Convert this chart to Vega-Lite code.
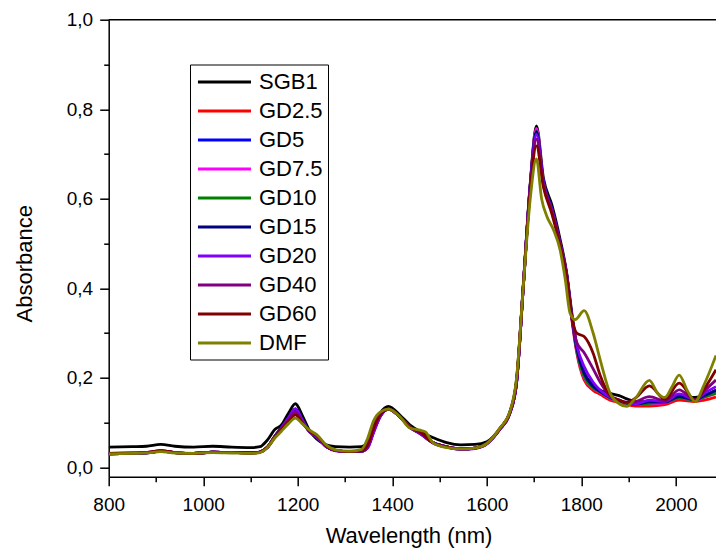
{
"$schema": "https://vega.github.io/schema/vega-lite/v6.json",
"width": 607.3, "height": 457,
"autosize": {"type": "none"},
"padding": {"left": 108.7, "top": 19.7, "right": 0, "bottom": 77.3},
"background": "white",
"config": {"view": {"stroke": null}, "font": "Liberation Sans"},
"datasets": {
"frame": [{"w": 800, "a": 1.0}],
"spectra": [
{"s":"SGB1","w":800,"a":0.045},{"s":"SGB1","w":850,"a":0.046},{"s":"SGB1","w":880,"a":0.047},{"s":"SGB1","w":910,"a":0.051},{"s":"SGB1","w":940,"a":0.047},{"s":"SGB1","w":980,"a":0.045},{"s":"SGB1","w":1020,"a":0.047},{"s":"SGB1","w":1060,"a":0.045},{"s":"SGB1","w":1100,"a":0.044},{"s":"SGB1","w":1120,"a":0.046},{"s":"SGB1","w":1135,"a":0.060},{"s":"SGB1","w":1152,"a":0.085},{"s":"SGB1","w":1165,"a":0.094},{"s":"SGB1","w":1180,"a":0.120},{"s":"SGB1","w":1195,"a":0.142},{"s":"SGB1","w":1210,"a":0.115},{"s":"SGB1","w":1225,"a":0.082},{"s":"SGB1","w":1240,"a":0.063},{"s":"SGB1","w":1260,"a":0.050},{"s":"SGB1","w":1280,"a":0.046},{"s":"SGB1","w":1310,"a":0.045},{"s":"SGB1","w":1335,"a":0.046},{"s":"SGB1","w":1348,"a":0.056},{"s":"SGB1","w":1360,"a":0.090},{"s":"SGB1","w":1375,"a":0.122},{"s":"SGB1","w":1392,"a":0.136},{"s":"SGB1","w":1416,"a":0.117},{"s":"SGB1","w":1437,"a":0.095},{"s":"SGB1","w":1459,"a":0.080},{"s":"SGB1","w":1487,"a":0.066},{"s":"SGB1","w":1515,"a":0.055},{"s":"SGB1","w":1545,"a":0.050},{"s":"SGB1","w":1575,"a":0.051},{"s":"SGB1","w":1600,"a":0.057},{"s":"SGB1","w":1628,"a":0.087},{"s":"SGB1","w":1649,"a":0.124},{"s":"SGB1","w":1663,"a":0.195},{"s":"SGB1","w":1677,"a":0.404},{"s":"SGB1","w":1692,"a":0.635},{"s":"SGB1","w":1705,"a":0.763},{"s":"SGB1","w":1720,"a":0.645},{"s":"SGB1","w":1738,"a":0.585},{"s":"SGB1","w":1755,"a":0.510},{"s":"SGB1","w":1769,"a":0.435},{"s":"SGB1","w":1780,"a":0.345},{"s":"SGB1","w":1790,"a":0.275},{"s":"SGB1","w":1806,"a":0.212},{"s":"SGB1","w":1825,"a":0.185},{"s":"SGB1","w":1840,"a":0.172},{"s":"SGB1","w":1861,"a":0.165},{"s":"SGB1","w":1880,"a":0.160},{"s":"SGB1","w":1896,"a":0.153},{"s":"SGB1","w":1915,"a":0.147},{"s":"SGB1","w":1944,"a":0.146},{"s":"SGB1","w":1977,"a":0.150},{"s":"SGB1","w":2007,"a":0.160},{"s":"SGB1","w":2041,"a":0.156},{"s":"SGB1","w":2060,"a":0.160},{"s":"SGB1","w":2085,"a":0.172},

{"s":"GD2.5","w":800,"a":0.030},{"s":"GD2.5","w":850,"a":0.031},{"s":"GD2.5","w":880,"a":0.032},{"s":"GD2.5","w":910,"a":0.036},{"s":"GD2.5","w":940,"a":0.033},{"s":"GD2.5","w":980,"a":0.031},{"s":"GD2.5","w":1020,"a":0.034},{"s":"GD2.5","w":1060,"a":0.033},{"s":"GD2.5","w":1100,"a":0.032},{"s":"GD2.5","w":1120,"a":0.034},{"s":"GD2.5","w":1135,"a":0.044},{"s":"GD2.5","w":1152,"a":0.070},{"s":"GD2.5","w":1165,"a":0.087},{"s":"GD2.5","w":1180,"a":0.106},{"s":"GD2.5","w":1195,"a":0.121},{"s":"GD2.5","w":1210,"a":0.101},{"s":"GD2.5","w":1225,"a":0.080},{"s":"GD2.5","w":1240,"a":0.069},{"s":"GD2.5","w":1260,"a":0.046},{"s":"GD2.5","w":1280,"a":0.038},{"s":"GD2.5","w":1310,"a":0.035},{"s":"GD2.5","w":1335,"a":0.036},{"s":"GD2.5","w":1348,"a":0.046},{"s":"GD2.5","w":1360,"a":0.080},{"s":"GD2.5","w":1375,"a":0.116},{"s":"GD2.5","w":1392,"a":0.130},{"s":"GD2.5","w":1416,"a":0.113},{"s":"GD2.5","w":1437,"a":0.090},{"s":"GD2.5","w":1459,"a":0.076},{"s":"GD2.5","w":1487,"a":0.055},{"s":"GD2.5","w":1515,"a":0.046},{"s":"GD2.5","w":1545,"a":0.041},{"s":"GD2.5","w":1575,"a":0.043},{"s":"GD2.5","w":1600,"a":0.053},{"s":"GD2.5","w":1628,"a":0.086},{"s":"GD2.5","w":1649,"a":0.122},{"s":"GD2.5","w":1663,"a":0.190},{"s":"GD2.5","w":1677,"a":0.400},{"s":"GD2.5","w":1692,"a":0.632},{"s":"GD2.5","w":1705,"a":0.756},{"s":"GD2.5","w":1720,"a":0.635},{"s":"GD2.5","w":1738,"a":0.575},{"s":"GD2.5","w":1755,"a":0.500},{"s":"GD2.5","w":1769,"a":0.428},{"s":"GD2.5","w":1780,"a":0.330},{"s":"GD2.5","w":1790,"a":0.258},{"s":"GD2.5","w":1806,"a":0.195},{"s":"GD2.5","w":1825,"a":0.172},{"s":"GD2.5","w":1840,"a":0.163},{"s":"GD2.5","w":1861,"a":0.150},{"s":"GD2.5","w":1880,"a":0.145},{"s":"GD2.5","w":1896,"a":0.140},{"s":"GD2.5","w":1915,"a":0.137},{"s":"GD2.5","w":1944,"a":0.137},{"s":"GD2.5","w":1977,"a":0.140},{"s":"GD2.5","w":2007,"a":0.150},{"s":"GD2.5","w":2041,"a":0.147},{"s":"GD2.5","w":2060,"a":0.150},{"s":"GD2.5","w":2085,"a":0.157},

{"s":"GD5","w":800,"a":0.030},{"s":"GD5","w":850,"a":0.031},{"s":"GD5","w":880,"a":0.032},{"s":"GD5","w":910,"a":0.036},{"s":"GD5","w":940,"a":0.033},{"s":"GD5","w":980,"a":0.031},{"s":"GD5","w":1020,"a":0.034},{"s":"GD5","w":1060,"a":0.033},{"s":"GD5","w":1100,"a":0.032},{"s":"GD5","w":1120,"a":0.034},{"s":"GD5","w":1135,"a":0.044},{"s":"GD5","w":1152,"a":0.070},{"s":"GD5","w":1165,"a":0.087},{"s":"GD5","w":1180,"a":0.109},{"s":"GD5","w":1195,"a":0.130},{"s":"GD5","w":1210,"a":0.104},{"s":"GD5","w":1225,"a":0.080},{"s":"GD5","w":1240,"a":0.070},{"s":"GD5","w":1260,"a":0.047},{"s":"GD5","w":1280,"a":0.038},{"s":"GD5","w":1310,"a":0.035},{"s":"GD5","w":1335,"a":0.036},{"s":"GD5","w":1348,"a":0.045},{"s":"GD5","w":1360,"a":0.079},{"s":"GD5","w":1375,"a":0.115},{"s":"GD5","w":1392,"a":0.130},{"s":"GD5","w":1416,"a":0.113},{"s":"GD5","w":1437,"a":0.090},{"s":"GD5","w":1459,"a":0.076},{"s":"GD5","w":1487,"a":0.055},{"s":"GD5","w":1515,"a":0.046},{"s":"GD5","w":1545,"a":0.041},{"s":"GD5","w":1575,"a":0.043},{"s":"GD5","w":1600,"a":0.053},{"s":"GD5","w":1628,"a":0.086},{"s":"GD5","w":1649,"a":0.122},{"s":"GD5","w":1663,"a":0.190},{"s":"GD5","w":1677,"a":0.400},{"s":"GD5","w":1692,"a":0.630},{"s":"GD5","w":1705,"a":0.752},{"s":"GD5","w":1720,"a":0.635},{"s":"GD5","w":1738,"a":0.575},{"s":"GD5","w":1755,"a":0.500},{"s":"GD5","w":1769,"a":0.430},{"s":"GD5","w":1780,"a":0.335},{"s":"GD5","w":1790,"a":0.265},{"s":"GD5","w":1806,"a":0.205},{"s":"GD5","w":1825,"a":0.178},{"s":"GD5","w":1840,"a":0.168},{"s":"GD5","w":1861,"a":0.155},{"s":"GD5","w":1880,"a":0.148},{"s":"GD5","w":1896,"a":0.143},{"s":"GD5","w":1915,"a":0.140},{"s":"GD5","w":1944,"a":0.143},{"s":"GD5","w":1977,"a":0.145},{"s":"GD5","w":2007,"a":0.156},{"s":"GD5","w":2041,"a":0.150},{"s":"GD5","w":2060,"a":0.158},{"s":"GD5","w":2085,"a":0.170},

{"s":"GD7.5","w":800,"a":0.030},{"s":"GD7.5","w":850,"a":0.031},{"s":"GD7.5","w":880,"a":0.032},{"s":"GD7.5","w":910,"a":0.036},{"s":"GD7.5","w":940,"a":0.033},{"s":"GD7.5","w":980,"a":0.031},{"s":"GD7.5","w":1020,"a":0.034},{"s":"GD7.5","w":1060,"a":0.033},{"s":"GD7.5","w":1100,"a":0.032},{"s":"GD7.5","w":1120,"a":0.034},{"s":"GD7.5","w":1135,"a":0.044},{"s":"GD7.5","w":1152,"a":0.070},{"s":"GD7.5","w":1165,"a":0.087},{"s":"GD7.5","w":1180,"a":0.108},{"s":"GD7.5","w":1195,"a":0.126},{"s":"GD7.5","w":1210,"a":0.102},{"s":"GD7.5","w":1225,"a":0.080},{"s":"GD7.5","w":1240,"a":0.070},{"s":"GD7.5","w":1260,"a":0.047},{"s":"GD7.5","w":1280,"a":0.038},{"s":"GD7.5","w":1310,"a":0.035},{"s":"GD7.5","w":1335,"a":0.036},{"s":"GD7.5","w":1348,"a":0.046},{"s":"GD7.5","w":1360,"a":0.080},{"s":"GD7.5","w":1375,"a":0.116},{"s":"GD7.5","w":1392,"a":0.130},{"s":"GD7.5","w":1416,"a":0.113},{"s":"GD7.5","w":1437,"a":0.090},{"s":"GD7.5","w":1459,"a":0.076},{"s":"GD7.5","w":1487,"a":0.055},{"s":"GD7.5","w":1515,"a":0.046},{"s":"GD7.5","w":1545,"a":0.041},{"s":"GD7.5","w":1575,"a":0.043},{"s":"GD7.5","w":1600,"a":0.053},{"s":"GD7.5","w":1628,"a":0.086},{"s":"GD7.5","w":1649,"a":0.122},{"s":"GD7.5","w":1663,"a":0.190},{"s":"GD7.5","w":1677,"a":0.400},{"s":"GD7.5","w":1692,"a":0.632},{"s":"GD7.5","w":1705,"a":0.757},{"s":"GD7.5","w":1720,"a":0.635},{"s":"GD7.5","w":1738,"a":0.575},{"s":"GD7.5","w":1755,"a":0.500},{"s":"GD7.5","w":1769,"a":0.430},{"s":"GD7.5","w":1780,"a":0.333},{"s":"GD7.5","w":1790,"a":0.262},{"s":"GD7.5","w":1806,"a":0.200},{"s":"GD7.5","w":1825,"a":0.176},{"s":"GD7.5","w":1840,"a":0.167},{"s":"GD7.5","w":1861,"a":0.154},{"s":"GD7.5","w":1880,"a":0.147},{"s":"GD7.5","w":1896,"a":0.142},{"s":"GD7.5","w":1915,"a":0.140},{"s":"GD7.5","w":1944,"a":0.142},{"s":"GD7.5","w":1977,"a":0.144},{"s":"GD7.5","w":2007,"a":0.155},{"s":"GD7.5","w":2041,"a":0.149},{"s":"GD7.5","w":2060,"a":0.156},{"s":"GD7.5","w":2085,"a":0.165},

{"s":"GD10","w":800,"a":0.030},{"s":"GD10","w":850,"a":0.031},{"s":"GD10","w":880,"a":0.032},{"s":"GD10","w":910,"a":0.036},{"s":"GD10","w":940,"a":0.033},{"s":"GD10","w":980,"a":0.031},{"s":"GD10","w":1020,"a":0.034},{"s":"GD10","w":1060,"a":0.033},{"s":"GD10","w":1100,"a":0.032},{"s":"GD10","w":1120,"a":0.034},{"s":"GD10","w":1135,"a":0.044},{"s":"GD10","w":1152,"a":0.070},{"s":"GD10","w":1165,"a":0.087},{"s":"GD10","w":1180,"a":0.108},{"s":"GD10","w":1195,"a":0.127},{"s":"GD10","w":1210,"a":0.103},{"s":"GD10","w":1225,"a":0.080},{"s":"GD10","w":1240,"a":0.070},{"s":"GD10","w":1260,"a":0.047},{"s":"GD10","w":1280,"a":0.038},{"s":"GD10","w":1310,"a":0.035},{"s":"GD10","w":1335,"a":0.036},{"s":"GD10","w":1348,"a":0.046},{"s":"GD10","w":1360,"a":0.080},{"s":"GD10","w":1375,"a":0.116},{"s":"GD10","w":1392,"a":0.130},{"s":"GD10","w":1416,"a":0.113},{"s":"GD10","w":1437,"a":0.090},{"s":"GD10","w":1459,"a":0.076},{"s":"GD10","w":1487,"a":0.055},{"s":"GD10","w":1515,"a":0.046},{"s":"GD10","w":1545,"a":0.041},{"s":"GD10","w":1575,"a":0.043},{"s":"GD10","w":1600,"a":0.053},{"s":"GD10","w":1628,"a":0.086},{"s":"GD10","w":1649,"a":0.122},{"s":"GD10","w":1663,"a":0.190},{"s":"GD10","w":1677,"a":0.400},{"s":"GD10","w":1692,"a":0.630},{"s":"GD10","w":1705,"a":0.751},{"s":"GD10","w":1720,"a":0.635},{"s":"GD10","w":1738,"a":0.575},{"s":"GD10","w":1755,"a":0.500},{"s":"GD10","w":1769,"a":0.430},{"s":"GD10","w":1780,"a":0.335},{"s":"GD10","w":1790,"a":0.264},{"s":"GD10","w":1806,"a":0.203},{"s":"GD10","w":1825,"a":0.178},{"s":"GD10","w":1840,"a":0.168},{"s":"GD10","w":1861,"a":0.155},{"s":"GD10","w":1880,"a":0.148},{"s":"GD10","w":1896,"a":0.143},{"s":"GD10","w":1915,"a":0.140},{"s":"GD10","w":1944,"a":0.143},{"s":"GD10","w":1977,"a":0.145},{"s":"GD10","w":2007,"a":0.155},{"s":"GD10","w":2041,"a":0.150},{"s":"GD10","w":2060,"a":0.157},{"s":"GD10","w":2085,"a":0.166},

{"s":"GD15","w":800,"a":0.030},{"s":"GD15","w":850,"a":0.031},{"s":"GD15","w":880,"a":0.032},{"s":"GD15","w":910,"a":0.036},{"s":"GD15","w":940,"a":0.033},{"s":"GD15","w":980,"a":0.031},{"s":"GD15","w":1020,"a":0.034},{"s":"GD15","w":1060,"a":0.033},{"s":"GD15","w":1100,"a":0.032},{"s":"GD15","w":1120,"a":0.034},{"s":"GD15","w":1135,"a":0.044},{"s":"GD15","w":1152,"a":0.070},{"s":"GD15","w":1165,"a":0.088},{"s":"GD15","w":1180,"a":0.110},{"s":"GD15","w":1195,"a":0.130},{"s":"GD15","w":1210,"a":0.104},{"s":"GD15","w":1225,"a":0.080},{"s":"GD15","w":1240,"a":0.070},{"s":"GD15","w":1260,"a":0.047},{"s":"GD15","w":1280,"a":0.038},{"s":"GD15","w":1310,"a":0.035},{"s":"GD15","w":1335,"a":0.036},{"s":"GD15","w":1348,"a":0.045},{"s":"GD15","w":1360,"a":0.078},{"s":"GD15","w":1375,"a":0.115},{"s":"GD15","w":1392,"a":0.130},{"s":"GD15","w":1416,"a":0.113},{"s":"GD15","w":1437,"a":0.090},{"s":"GD15","w":1459,"a":0.076},{"s":"GD15","w":1487,"a":0.055},{"s":"GD15","w":1515,"a":0.046},{"s":"GD15","w":1545,"a":0.041},{"s":"GD15","w":1575,"a":0.043},{"s":"GD15","w":1600,"a":0.053},{"s":"GD15","w":1628,"a":0.086},{"s":"GD15","w":1649,"a":0.122},{"s":"GD15","w":1663,"a":0.190},{"s":"GD15","w":1677,"a":0.400},{"s":"GD15","w":1692,"a":0.630},{"s":"GD15","w":1705,"a":0.750},{"s":"GD15","w":1720,"a":0.636},{"s":"GD15","w":1738,"a":0.577},{"s":"GD15","w":1755,"a":0.502},{"s":"GD15","w":1769,"a":0.431},{"s":"GD15","w":1780,"a":0.337},{"s":"GD15","w":1790,"a":0.268},{"s":"GD15","w":1806,"a":0.210},{"s":"GD15","w":1825,"a":0.181},{"s":"GD15","w":1840,"a":0.169},{"s":"GD15","w":1861,"a":0.156},{"s":"GD15","w":1880,"a":0.149},{"s":"GD15","w":1896,"a":0.144},{"s":"GD15","w":1915,"a":0.141},{"s":"GD15","w":1944,"a":0.146},{"s":"GD15","w":1977,"a":0.146},{"s":"GD15","w":2007,"a":0.158},{"s":"GD15","w":2041,"a":0.151},{"s":"GD15","w":2060,"a":0.160},{"s":"GD15","w":2085,"a":0.172},

{"s":"GD20","w":800,"a":0.030},{"s":"GD20","w":850,"a":0.031},{"s":"GD20","w":880,"a":0.032},{"s":"GD20","w":910,"a":0.036},{"s":"GD20","w":940,"a":0.033},{"s":"GD20","w":980,"a":0.031},{"s":"GD20","w":1020,"a":0.034},{"s":"GD20","w":1060,"a":0.033},{"s":"GD20","w":1100,"a":0.032},{"s":"GD20","w":1120,"a":0.034},{"s":"GD20","w":1135,"a":0.043},{"s":"GD20","w":1152,"a":0.068},{"s":"GD20","w":1165,"a":0.087},{"s":"GD20","w":1180,"a":0.110},{"s":"GD20","w":1195,"a":0.131},{"s":"GD20","w":1210,"a":0.105},{"s":"GD20","w":1225,"a":0.079},{"s":"GD20","w":1240,"a":0.068},{"s":"GD20","w":1260,"a":0.046},{"s":"GD20","w":1280,"a":0.037},{"s":"GD20","w":1310,"a":0.035},{"s":"GD20","w":1335,"a":0.036},{"s":"GD20","w":1348,"a":0.043},{"s":"GD20","w":1360,"a":0.076},{"s":"GD20","w":1375,"a":0.114},{"s":"GD20","w":1392,"a":0.130},{"s":"GD20","w":1416,"a":0.113},{"s":"GD20","w":1437,"a":0.089},{"s":"GD20","w":1459,"a":0.075},{"s":"GD20","w":1487,"a":0.054},{"s":"GD20","w":1515,"a":0.045},{"s":"GD20","w":1545,"a":0.040},{"s":"GD20","w":1575,"a":0.042},{"s":"GD20","w":1600,"a":0.052},{"s":"GD20","w":1628,"a":0.085},{"s":"GD20","w":1649,"a":0.121},{"s":"GD20","w":1663,"a":0.188},{"s":"GD20","w":1677,"a":0.398},{"s":"GD20","w":1692,"a":0.628},{"s":"GD20","w":1705,"a":0.744},{"s":"GD20","w":1720,"a":0.634},{"s":"GD20","w":1738,"a":0.574},{"s":"GD20","w":1755,"a":0.500},{"s":"GD20","w":1769,"a":0.430},{"s":"GD20","w":1780,"a":0.338},{"s":"GD20","w":1790,"a":0.275},{"s":"GD20","w":1806,"a":0.225},{"s":"GD20","w":1825,"a":0.190},{"s":"GD20","w":1840,"a":0.172},{"s":"GD20","w":1861,"a":0.157},{"s":"GD20","w":1880,"a":0.150},{"s":"GD20","w":1896,"a":0.145},{"s":"GD20","w":1915,"a":0.142},{"s":"GD20","w":1944,"a":0.150},{"s":"GD20","w":1977,"a":0.147},{"s":"GD20","w":2007,"a":0.164},{"s":"GD20","w":2041,"a":0.151},{"s":"GD20","w":2060,"a":0.165},{"s":"GD20","w":2085,"a":0.180},

{"s":"GD40","w":800,"a":0.031},{"s":"GD40","w":850,"a":0.032},{"s":"GD40","w":880,"a":0.033},{"s":"GD40","w":910,"a":0.037},{"s":"GD40","w":940,"a":0.033},{"s":"GD40","w":980,"a":0.031},{"s":"GD40","w":1020,"a":0.034},{"s":"GD40","w":1060,"a":0.033},{"s":"GD40","w":1100,"a":0.032},{"s":"GD40","w":1120,"a":0.034},{"s":"GD40","w":1135,"a":0.044},{"s":"GD40","w":1152,"a":0.069},{"s":"GD40","w":1165,"a":0.086},{"s":"GD40","w":1180,"a":0.106},{"s":"GD40","w":1195,"a":0.124},{"s":"GD40","w":1210,"a":0.101},{"s":"GD40","w":1225,"a":0.080},{"s":"GD40","w":1240,"a":0.070},{"s":"GD40","w":1260,"a":0.047},{"s":"GD40","w":1280,"a":0.038},{"s":"GD40","w":1310,"a":0.035},{"s":"GD40","w":1335,"a":0.036},{"s":"GD40","w":1348,"a":0.047},{"s":"GD40","w":1360,"a":0.082},{"s":"GD40","w":1375,"a":0.117},{"s":"GD40","w":1392,"a":0.130},{"s":"GD40","w":1416,"a":0.113},{"s":"GD40","w":1437,"a":0.090},{"s":"GD40","w":1459,"a":0.077},{"s":"GD40","w":1487,"a":0.055},{"s":"GD40","w":1515,"a":0.046},{"s":"GD40","w":1545,"a":0.041},{"s":"GD40","w":1575,"a":0.043},{"s":"GD40","w":1600,"a":0.053},{"s":"GD40","w":1628,"a":0.086},{"s":"GD40","w":1649,"a":0.122},{"s":"GD40","w":1663,"a":0.190},{"s":"GD40","w":1677,"a":0.400},{"s":"GD40","w":1692,"a":0.625},{"s":"GD40","w":1705,"a":0.733},{"s":"GD40","w":1720,"a":0.630},{"s":"GD40","w":1738,"a":0.572},{"s":"GD40","w":1755,"a":0.498},{"s":"GD40","w":1769,"a":0.428},{"s":"GD40","w":1780,"a":0.335},{"s":"GD40","w":1790,"a":0.280},{"s":"GD40","w":1806,"a":0.256},{"s":"GD40","w":1825,"a":0.220},{"s":"GD40","w":1840,"a":0.190},{"s":"GD40","w":1861,"a":0.160},{"s":"GD40","w":1880,"a":0.150},{"s":"GD40","w":1896,"a":0.145},{"s":"GD40","w":1915,"a":0.147},{"s":"GD40","w":1944,"a":0.158},{"s":"GD40","w":1977,"a":0.148},{"s":"GD40","w":2007,"a":0.173},{"s":"GD40","w":2041,"a":0.150},{"s":"GD40","w":2060,"a":0.170},{"s":"GD40","w":2085,"a":0.195},

{"s":"GD60","w":800,"a":0.031},{"s":"GD60","w":850,"a":0.032},{"s":"GD60","w":880,"a":0.033},{"s":"GD60","w":910,"a":0.037},{"s":"GD60","w":940,"a":0.033},{"s":"GD60","w":980,"a":0.031},{"s":"GD60","w":1020,"a":0.034},{"s":"GD60","w":1060,"a":0.033},{"s":"GD60","w":1100,"a":0.032},{"s":"GD60","w":1120,"a":0.034},{"s":"GD60","w":1135,"a":0.044},{"s":"GD60","w":1152,"a":0.068},{"s":"GD60","w":1165,"a":0.084},{"s":"GD60","w":1180,"a":0.102},{"s":"GD60","w":1195,"a":0.117},{"s":"GD60","w":1210,"a":0.099},{"s":"GD60","w":1225,"a":0.081},{"s":"GD60","w":1240,"a":0.071},{"s":"GD60","w":1260,"a":0.048},{"s":"GD60","w":1280,"a":0.038},{"s":"GD60","w":1310,"a":0.035},{"s":"GD60","w":1335,"a":0.037},{"s":"GD60","w":1348,"a":0.050},{"s":"GD60","w":1360,"a":0.087},{"s":"GD60","w":1375,"a":0.119},{"s":"GD60","w":1392,"a":0.130},{"s":"GD60","w":1416,"a":0.113},{"s":"GD60","w":1437,"a":0.089},{"s":"GD60","w":1459,"a":0.079},{"s":"GD60","w":1487,"a":0.054},{"s":"GD60","w":1515,"a":0.045},{"s":"GD60","w":1545,"a":0.041},{"s":"GD60","w":1575,"a":0.043},{"s":"GD60","w":1600,"a":0.053},{"s":"GD60","w":1628,"a":0.087},{"s":"GD60","w":1649,"a":0.123},{"s":"GD60","w":1663,"a":0.195},{"s":"GD60","w":1677,"a":0.400},{"s":"GD60","w":1692,"a":0.618},{"s":"GD60","w":1705,"a":0.718},{"s":"GD60","w":1720,"a":0.625},{"s":"GD60","w":1738,"a":0.565},{"s":"GD60","w":1755,"a":0.495},{"s":"GD60","w":1769,"a":0.425},{"s":"GD60","w":1780,"a":0.335},{"s":"GD60","w":1790,"a":0.300},{"s":"GD60","w":1806,"a":0.292},{"s":"GD60","w":1825,"a":0.255},{"s":"GD60","w":1840,"a":0.205},{"s":"GD60","w":1861,"a":0.160},{"s":"GD60","w":1880,"a":0.150},{"s":"GD60","w":1896,"a":0.145},{"s":"GD60","w":1915,"a":0.155},{"s":"GD60","w":1944,"a":0.182},{"s":"GD60","w":1977,"a":0.152},{"s":"GD60","w":2007,"a":0.188},{"s":"GD60","w":2041,"a":0.150},{"s":"GD60","w":2060,"a":0.175},{"s":"GD60","w":2085,"a":0.218},

{"s":"DMF","w":800,"a":0.030},{"s":"DMF","w":850,"a":0.031},{"s":"DMF","w":880,"a":0.032},{"s":"DMF","w":910,"a":0.035},{"s":"DMF","w":940,"a":0.032},{"s":"DMF","w":980,"a":0.031},{"s":"DMF","w":1020,"a":0.033},{"s":"DMF","w":1060,"a":0.032},{"s":"DMF","w":1100,"a":0.031},{"s":"DMF","w":1120,"a":0.033},{"s":"DMF","w":1135,"a":0.043},{"s":"DMF","w":1152,"a":0.066},{"s":"DMF","w":1165,"a":0.080},{"s":"DMF","w":1180,"a":0.097},{"s":"DMF","w":1195,"a":0.110},{"s":"DMF","w":1210,"a":0.097},{"s":"DMF","w":1225,"a":0.083},{"s":"DMF","w":1240,"a":0.073},{"s":"DMF","w":1260,"a":0.050},{"s":"DMF","w":1280,"a":0.039},{"s":"DMF","w":1310,"a":0.036},{"s":"DMF","w":1335,"a":0.040},{"s":"DMF","w":1348,"a":0.065},{"s":"DMF","w":1360,"a":0.103},{"s":"DMF","w":1375,"a":0.124},{"s":"DMF","w":1392,"a":0.130},{"s":"DMF","w":1416,"a":0.113},{"s":"DMF","w":1437,"a":0.088},{"s":"DMF","w":1459,"a":0.083},{"s":"DMF","w":1470,"a":0.079},{"s":"DMF","w":1487,"a":0.054},{"s":"DMF","w":1515,"a":0.044},{"s":"DMF","w":1545,"a":0.041},{"s":"DMF","w":1575,"a":0.043},{"s":"DMF","w":1600,"a":0.053},{"s":"DMF","w":1628,"a":0.088},{"s":"DMF","w":1649,"a":0.125},{"s":"DMF","w":1663,"a":0.200},{"s":"DMF","w":1677,"a":0.400},{"s":"DMF","w":1692,"a":0.600},{"s":"DMF","w":1705,"a":0.689},{"s":"DMF","w":1716,"a":0.600},{"s":"DMF","w":1727,"a":0.561},{"s":"DMF","w":1741,"a":0.531},{"s":"DMF","w":1755,"a":0.486},{"s":"DMF","w":1766,"a":0.420},{"s":"DMF","w":1776,"a":0.345},{"s":"DMF","w":1787,"a":0.330},{"s":"DMF","w":1806,"a":0.350},{"s":"DMF","w":1825,"a":0.300},{"s":"DMF","w":1840,"a":0.240},{"s":"DMF","w":1861,"a":0.165},{"s":"DMF","w":1880,"a":0.142},{"s":"DMF","w":1896,"a":0.136},{"s":"DMF","w":1915,"a":0.155},{"s":"DMF","w":1944,"a":0.194},{"s":"DMF","w":1962,"a":0.165},{"s":"DMF","w":1977,"a":0.156},{"s":"DMF","w":1992,"a":0.180},{"s":"DMF","w":2007,"a":0.206},{"s":"DMF","w":2025,"a":0.170},{"s":"DMF","w":2041,"a":0.147},{"s":"DMF","w":2060,"a":0.185},{"s":"DMF","w":2085,"a":0.250}
]
},
"resolve": {"axis": {"x": "independent", "y": "independent"}},
"layer": [
{
"data": {"name": "spectra"},
"mark": {"type": "line", "interpolate": "monotone", "strokeWidth": 2.8, "clip": true},
"encoding": {
"x": {"field": "w", "type": "quantitative",
"scale": {"domain": [800, 2085], "nice": false, "zero": false},
"axis": {"orient": "bottom", "values": [800,1000,1200,1400,1600,1800,2000], "format": "d",
"tickSize": 9,
"grid": false, "domainColor": "black", "domainWidth": 1.5, "tickColor": "black", "tickWidth": 1.5,
"labelFont": "Liberation Sans", "labelFontSize": 19, "labelColor": "black", "labelPadding": 10,
"labelFlush": false, "labelOverlap": false,
"title": "Wavelength (nm)", "titleFont": "Liberation Sans", "titleFontSize": 22, "titleFontWeight": "normal", "titleColor": "black",
"titleX": 299.8, "titleY": 65.8, "titleBaseline": "alphabetic", "titleAlign": "center"}},
"y": {"field": "a", "type": "quantitative",
"scale": {"domain": [-0.021, 1.0], "nice": false, "zero": false},
"axis": {"orient": "left", "values": [0,0.2,0.4,0.6,0.8,1.0],
"labelExpr": "replace(format(datum.value, '.1f'), '.', ',')",
"tickSize": 9,
"grid": false, "domainColor": "black", "domainWidth": 1.5, "tickColor": "black", "tickWidth": 1.5,
"labelFont": "Liberation Sans", "labelFontSize": 19, "labelColor": "black", "labelPadding": 7,
"labelFlush": false, "labelOverlap": false,
"title": "Absorbance", "titleFont": "Liberation Sans", "titleFontSize": 22, "titleFontWeight": "normal", "titleColor": "black",
"titleX": -77, "titleY": 243.6, "titleBaseline": "alphabetic", "titleAlign": "center", "titleAngle": -90}},
"color": {"field": "s", "type": "nominal",
"scale": {"domain": ["SGB1","GD2.5","GD5","GD7.5","GD10","GD15","GD20","GD40","GD60","DMF"],
"range": ["#000000","#FF0000","#0000FF","#FF00FF","#008000","#000080","#8000FF","#800080","#800000","#808000"]},
"legend": {"title": null, "orient": "none", "legendX": 81.3, "legendY": 44.8,
"strokeColor": "black", "fillColor": "white", "padding": 5,
"symbolType": "M-0.9,0H4.1", "symbolSize": 450, "symbolStrokeWidth": 2.8,
"labelFont": "Liberation Sans", "labelFontSize": 22, "labelColor": "black", "labelOffset": 39, "rowPadding": 5}}
}
},
{
"data": {"name": "frame"},
"mark": {"type": "point", "opacity": 0},
"encoding": {
"x": {"field": "w", "type": "quantitative",
"axis": {"orient": "bottom", "values": [900,1100,1300,1500,1700,1900], "tickSize": 5, "tickWidth": 1.5, "tickColor": "black",
"labels": false, "domain": false, "grid": false, "title": null}},
"y": {"field": "a", "type": "quantitative",
"axis": {"orient": "left", "values": [0.1,0.3,0.5,0.7,0.9], "tickSize": 5, "tickWidth": 1.5, "tickColor": "black",
"labels": false, "domain": false, "grid": false, "title": null}}
}
},
{
"data": {"name": "frame"},
"mark": {"type": "rule", "color": "black", "strokeWidth": 1.5},
"encoding": {
"y": {"field": "a", "type": "quantitative", "axis": null}
}
}
]
}
